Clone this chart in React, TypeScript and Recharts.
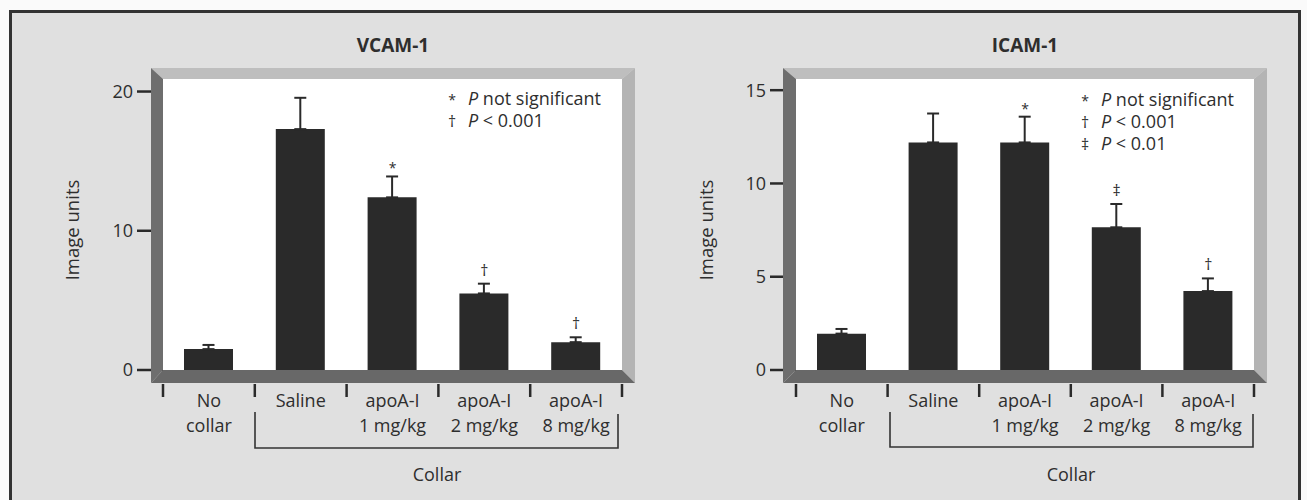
import React from 'react';
import { BarChart, Bar, XAxis, YAxis, CartesianGrid, ErrorBar, ReferenceDot } from 'recharts';

// ---- data ----
const categories = ['No collar', 'Saline', 'apoA-I 1 mg/kg', 'apoA-I 2 mg/kg', 'apoA-I 8 mg/kg'];
const vcamValues = [1.5, 17.3, 12.4, 5.5, 2.0];
const vcamErrors = [0.3, 2.25, 1.5, 0.7, 0.35];
const vcamMarks = ['', '', '*', '†', '†'];
const icamValues = [1.95, 12.2, 12.2, 7.65, 4.23];
const icamErrors = [0.25, 1.55, 1.38, 1.25, 0.68];
const icamMarks = ['', '', '*', '‡', '†'];
const vcamTicks = [0, 10, 20];
const icamTicks = [0, 5, 10, 15];
const vcamLegend = [
  { sym: '*', text: ' not significant' },
  { sym: '†', text: ' < 0.001' },
];
const icamLegend = [
  { sym: '*', text: ' not significant' },
  { sym: '†', text: ' < 0.001' },
  { sym: '‡', text: ' < 0.01' },
];

const FONT = '"Open Sans", "Noto Sans", sans-serif';
const TXT = '#2e2e2e';
const BAR = '#2a2a2a';

const CatTick = (props: any) => {
  const { x, y, payload, visibleTicksCount } = props;
  const name: string = String(payload.value);
  const i = name.indexOf(' ');
  const l1 = i >= 0 ? name.slice(0, i) : name;
  const l2 = i >= 0 ? name.slice(i + 1) : '';
  const half = typeof payload.offset === 'number' && payload.offset > 0 ? payload.offset : 45.8;
  const last = payload.index === (visibleTicksCount ?? categories.length) - 1 || payload.index === categories.length - 1;
  return (
    <g>
      <line x1={x - half} x2={x - half} y1={y + 14} y2={y + 27} stroke="#2a2a2a" strokeWidth={2.5} />
      {last && <line x1={x + half} x2={x + half} y1={y + 14} y2={y + 27} stroke="#2a2a2a" strokeWidth={2.5} />}
      <text x={x} y={y + 37} textAnchor="middle" fontSize={18} fill={TXT} fontFamily={FONT}>{l1}</text>
      {l2 && <text x={x} y={y + 62} textAnchor="middle" fontSize={18} fill={TXT} fontFamily={FONT}>{l2}</text>}
    </g>
  );
};

type PanelProps = {
  left: number; width: number; yAxisWidth: number; marginRight: number;
  values: number[]; errors: number[]; marks: string[]; ticks: number[]; domainMax: number;
};

function Panel({ left, width, yAxisWidth, marginRight, values, errors, marks, ticks, domainMax }: PanelProps) {
  const rows = categories.map((c, i) => ({ name: c, value: values[i], err: [0, errors[i]] }));
  return (
    <div style={{ position: 'absolute', left, top: 0, width, height: 500 }}>
      <BarChart width={width} height={500} data={rows} margin={{ top: 79, right: marginRight, bottom: 40, left: 0 }} barSize={49}>
        <CartesianGrid fill="#ffffff" stroke="none" vertical={false} horizontal={false} />
        <XAxis dataKey="name" type="category" axisLine={false} tickLine={false} tickSize={0} tickMargin={0}
          height={90} interval={0} tick={<CatTick />} />
        <YAxis type="number" domain={[0, domainMax]} ticks={ticks} width={yAxisWidth} axisLine={false}
          tickLine={{ stroke: '#2a2a2a', strokeWidth: 2.5 }} tickSize={26} tickMargin={4} allowDataOverflow
          tick={{ fontSize: 18, fill: TXT, fontFamily: FONT }} />
        <Bar dataKey="value" fill={BAR} isAnimationActive={false}>
          <ErrorBar dataKey="err" width={6} stroke={BAR} strokeWidth={2} direction="y" />
        </Bar>
        {marks.map((m, i) => m ? (
          <ReferenceDot key={i} x={categories[i]} y={values[i] + errors[i]} r={0} ifOverflow="visible"
            shape={(p: any) => (
              <text x={p.cx} y={m === '*' ? p.cy - 3 : p.cy - 8} textAnchor="middle" fontSize={m === '*' ? 14 : 16}
                fill={TXT} fontFamily={FONT}>{m}</text>
            )} />
        ) : null)}
      </BarChart>
    </div>
  );
}

function Frame({ x0, y0, x1, y1, xi0, yi0, xi1, yi1 }: any) {
  return (
    <g>
      <polygon points={`${x0},${y0} ${x1},${y0} ${xi1},${yi0} ${xi0},${yi0}`} fill="#bebebe" />
      <polygon points={`${xi1},${yi0} ${x1},${y0} ${x1},${y1} ${xi1},${yi1}`} fill="#b4b4b4" />
      <polygon points={`${x0},${y0} ${xi0},${yi0} ${xi0},${yi1} ${x0},${y1}`} fill="#6e6e6e" />
      <polygon points={`${x0},${y1} ${xi0},${yi1} ${xi1},${yi1} ${x1},${y1}`} fill="#686868" />
    </g>
  );
}

function Legend({ x, y, items }: { x: number; y: number; items: { sym: string; text: string }[] }) {
  return (
    <g fontFamily={FONT} fontSize={18} fill={TXT}>
      {items.map((it, i) => (
        <g key={i}>
          <text x={x} y={y + i * 22} textAnchor="middle" fontSize={it.sym === '*' ? 14 : 16}>{it.sym}</text>
          <text x={x + 16} y={y + i * 22}><tspan fontStyle="italic">P</tspan>{it.text}</text>
        </g>
      ))}
    </g>
  );
}

function Overlay() {
  return (
    <svg width={1307} height={500} style={{ position: 'absolute', left: 0, top: 0, pointerEvents: 'none' }}>
      <Frame x0={151} y0={68} x1={635} y1={383} xi0={163} yi0={79} xi1={622} yi1={370} />
      <Frame x0={783} y0={68} x1={1267} y1={383} xi0={796} yi0={79} xi1={1254} yi1={370} />
      <g fontFamily={FONT} fill={TXT}>
        <text x={393} y={52} textAnchor="middle" fontSize={19} fontWeight="bold">VCAM-1</text>
        <text x={1025} y={52} textAnchor="middle" fontSize={19} fontWeight="bold">ICAM-1</text>
        <text x={0} y={0} transform="translate(79,230) rotate(-90)" textAnchor="middle" fontSize={18.5}>Image units</text>
        <text x={0} y={0} transform="translate(713,230) rotate(-90)" textAnchor="middle" fontSize={18.5}>Image units</text>
        <text x={437} y={481} textAnchor="middle" fontSize={18}>Collar</text>
        <text x={1071} y={481} textAnchor="middle" fontSize={18}>Collar</text>
      </g>
      <Legend x={452} y={105} items={vcamLegend} />
      <Legend x={1085} y={106} items={icamLegend} />
      <polyline points="255,412 255,448 618,448 618,414" fill="none" stroke="#333" strokeWidth={1.6} />
      <polyline points="890,412 890,447 1253,447 1253,414" fill="none" stroke="#333" strokeWidth={1.6} />
    </svg>
  );
}

export default function App() {
  return (
    <div style={{ position: 'absolute', left: 0, top: 0, width: 1307, height: 500, background: '#fafafa', overflow: 'hidden', fontFamily: FONT }}>
      <div style={{ position: 'absolute', left: 9, top: 10, width: 1292, height: 520, boxSizing: 'border-box', border: '3px solid #333', background: '#e0e0e0' }} />
      <Panel left={0} width={660} yAxisWidth={163} marginRight={38} values={vcamValues} errors={vcamErrors}
        marks={vcamMarks} ticks={vcamTicks} domainMax={20.9} />
      <Panel left={660} width={647} yAxisWidth={136} marginRight={53} values={icamValues} errors={icamErrors}
        marks={icamMarks} ticks={icamTicks} domainMax={15.6} />
      <Overlay />
    </div>
  );
}
